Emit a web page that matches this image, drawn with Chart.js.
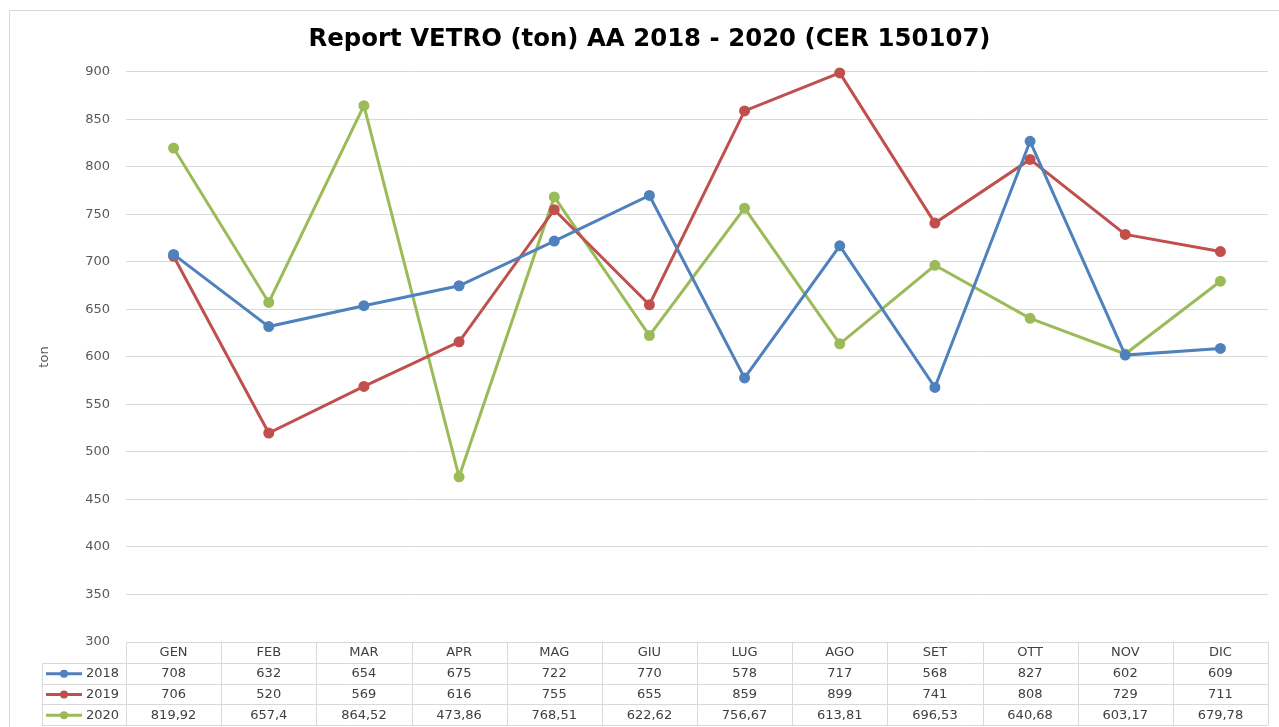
<!doctype html>
<html lang="it">
  <head>
    <meta charset="utf-8">
    <title>Report VETRO</title>
    <style>
      * { margin: 0; padding: 0; }
      body { background: #fff; }
      .chartBox { width: 1279px; height: 727px; }
    </style>
  </head>
  <body>
    <div class="chartBox">
      <canvas id="myChart" width="1279" height="727"></canvas>
    </div>
    <script src="https://cdn.jsdelivr.net/npm/chart.js"></script>
    <script>
    // data
    const months = ['GEN', 'FEB', 'MAR', 'APR', 'MAG', 'GIU', 'LUG', 'AGO', 'SET', 'OTT', 'NOV', 'DIC'];
    const years = ['2018', '2019', '2020'];
    const v2018 = [708, 632, 654, 675, 722, 770, 578, 717, 568, 827, 602, 609];
    const v2019 = [706, 520, 569, 616, 755, 655, 859, 899, 741, 808, 729, 711];
    const v2020 = [819.92, 657.4, 864.52, 473.86, 768.51, 622.62, 756.67, 613.81, 696.53, 640.68, 603.17, 679.78];
    const colors = ['#4F81BD', '#C0504D', '#9BBB59'];

    const fontFam = '"DejaVu Sans", sans-serif';
    const fmt = v => String(v).replace('.', ',');

    // table under the plot, like the Excel data table
    const tablePlugin = {
      id: 'dataTable',
      afterDraw(chart) {
        const ctx = chart.ctx;
        const x = chart.scales.x;
        const area = chart.chartArea;
        const colW = (area.right - area.left) / months.length;
        const rowH = 20.8;
        const top = area.bottom;
        const legL = 42;
        ctx.save();
        ctx.strokeStyle = '#D9D9D9';
        ctx.lineWidth = 1;
        ctx.beginPath();
        // horizontal lines
        ctx.moveTo(area.left, top + 0.5); ctx.lineTo(area.right, top + 0.5);
        for (let r = 1; r <= 4; r++) {
          const y = Math.round(top + r * rowH) + 0.5;
          ctx.moveTo(legL, y); ctx.lineTo(area.right, y);
        }
        // vertical lines
        for (let c = 0; c <= months.length; c++) {
          const xx = Math.round(area.left + c * colW) + 0.5;
          ctx.moveTo(xx, top); ctx.lineTo(xx, top + 4 * rowH);
        }
        ctx.moveTo(legL + 0.5, top + rowH); ctx.lineTo(legL + 0.5, top + 4 * rowH);
        ctx.stroke();

        ctx.fillStyle = '#404040';
        ctx.font = '13px ' + fontFam;
        ctx.textAlign = 'center';
        ctx.textBaseline = 'middle';
        months.forEach((m, i) => {
          ctx.fillText(m, x.getPixelForValue(i), top + rowH / 2 + 0.5);
        });
        chart.data.datasets.forEach((ds, r) => {
          const cy = top + (r + 1.5) * rowH + 0.5;
          ds.data.forEach((v, i) => {
            ctx.fillStyle = '#404040';
            ctx.textAlign = 'center';
            ctx.fillText(fmt(v), x.getPixelForValue(i), cy);
          });
          // legend key
          ctx.strokeStyle = ds.borderColor;
          ctx.lineWidth = 3;
          ctx.beginPath();
          ctx.moveTo(46, cy); ctx.lineTo(82, cy);
          ctx.stroke();
          ctx.fillStyle = ds.borderColor;
          ctx.beginPath();
          ctx.arc(64, cy, 4, 0, Math.PI * 2);
          ctx.fill();
          ctx.fillStyle = '#404040';
          ctx.textAlign = 'left';
          ctx.fillText(ds.label, 86, cy);
        });
        ctx.restore();
      },
      beforeDraw(chart) {
        const ctx = chart.ctx;
        ctx.save();
        ctx.fillStyle = '#fff';
        ctx.fillRect(0, 0, chart.width, chart.height);
        ctx.strokeStyle = '#D9D9D9';
        ctx.lineWidth = 1;
        ctx.strokeRect(9.5, 10.5, chart.width + 20, chart.height + 20);
        ctx.restore();
      }
    };

    const data = {
      labels: months,
      datasets: [v2018, v2019, v2020].map((vals, i) => ({
        label: years[i],
        data: vals,
        borderColor: colors[i],
        backgroundColor: colors[i],
        borderWidth: 3,
        pointRadius: 4,
        pointHoverRadius: 4,
        tension: 0,
        clip: false
      }))
    };

    const config = {
      type: 'line',
      data,
      options: {
        responsive: false,
        animation: false,
        layout: { padding: { left: 31, right: 11, top: 10, bottom: 85 } },
        plugins: {
          legend: { display: false },
          tooltip: { enabled: false },
          title: {
            display: true,
            text: 'Report VETRO (ton) AA 2018 - 2020 (CER 150107)',
            color: '#000',
            font: { family: fontFam, size: 24.4, weight: 'bold' },
            padding: { top: 15.4, bottom: 17.3 }
          }
        },
        scales: {
          x: {
            display: false,
            offset: true
          },
          y: {
            min: 300,
            max: 900,
            afterFit(scale) { scale.width = 95; },
            border: { display: false },
            grid: { color: '#D9D9D9', drawTicks: false },
            ticks: {
              stepSize: 50,
              padding: 16,
              color: '#595959',
              font: { family: fontFam, size: 13 }
            },
            title: {
              display: true,
              text: 'ton',
              color: '#595959',
              font: { family: fontFam, size: 13 },
              padding: { top: 6, bottom: 0 }
            }
          }
        }
      },
      plugins: [tablePlugin]
    };

    const myChart = new Chart(document.getElementById('myChart'), config);
    </script>
  </body>
</html>
